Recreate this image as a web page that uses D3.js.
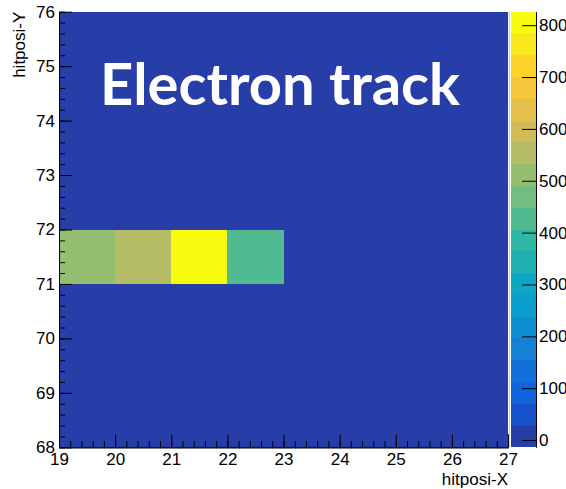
<!DOCTYPE html>
<html><head><meta charset="utf-8">
<script src="https://cdn.jsdelivr.net/npm/d3@7"></script>
<style>body{margin:0;background:#fff}svg{display:block}</style>
</head><body>
<script>
// ---- data ----
const xEdges = [19, 20, 21, 22, 23, 24, 25, 26, 27];
const yEdges = [68, 69, 70, 71, 72, 73, 74, 75, 76];
const hitX = [19, 20, 21, 22];
const hitY = [71, 71, 71, 71];
const hitCounts = [510, 553, 805, 428];
const zRange = [-14, 826];
const nContours = 20;
const xTicks = [19, 20, 21, 22, 23, 24, 25, 26, 27];
const yTicks = [68, 69, 70, 71, 72, 73, 74, 75, 76];
const zTicks = [0, 100, 200, 300, 400, 500, 600, 700, 800];
const xTitle = "hitposi-X", yTitle = "hitposi-Y";
const overlayText = "Electron track";

// ROOT kBird palette
const birdStops = [0.0000, 0.1250, 0.2500, 0.3750, 0.5000, 0.6250, 0.7500, 0.8750, 1.0000];
const birdR = [0.2082, 0.0592, 0.0780, 0.0232, 0.1802, 0.5301, 0.8186, 0.9956, 0.9764];
const birdG = [0.1664, 0.3599, 0.5041, 0.6419, 0.7178, 0.7492, 0.7328, 0.7862, 0.9832];
const birdB = [0.5293, 0.8684, 0.8385, 0.7914, 0.6425, 0.4662, 0.3499, 0.1968, 0.0539];

// ---- layout ----
const W = 566, H = 489;
const fx0 = 59, fx1 = 508, fy0 = 11.7, fy1 = 447.3;
const px0 = 511, px1 = 536;
const fontFam = "'Liberation Sans', Arial, Helvetica, sans-serif";
const fs = 17;

const svg = d3.select("body").append("svg").attr("width", W).attr("height", H)
  .style("font-family", fontFam);

const x = d3.scaleLinear().domain([xEdges[0], xEdges[xEdges.length-1]]).range([fx0, fx1]);
const y = d3.scaleLinear().domain([yEdges[0], yEdges[yEdges.length-1]]).range([fy1, fy0]);
const z = d3.scaleLinear().domain(zRange).range([fy1, fy0]);

// palette colors
const rgbAt = d3.scaleLinear().domain(birdStops).range(birdStops.map((s,i)=>d3.rgb(birdR[i]*255, birdG[i]*255, birdB[i]*255))).interpolate(d3.interpolateRgb);
const nCol = 255;
const contourColors = d3.range(nContours).map(i => {
  const idx = Math.floor((i + 0.99) * nCol / nContours);
  return rgbAt(Math.min(idx, nCol-1) / (nCol-1));
});
const dz = (zRange[1]-zRange[0]) / nContours;
const colorOf = v => contourColors[Math.max(0, Math.min(nContours-1, Math.floor((v - zRange[0]) / dz)))];

// grid cells
const cells = [];
for (let i = 0; i < xEdges.length-1; i++) for (let j = 0; j < yEdges.length-1; j++) {
  let v = 0;
  hitX.forEach((hx, k) => { if (hx === xEdges[i] && hitY[k] === yEdges[j]) v = hitCounts[k]; });
  cells.push({x0: xEdges[i], x1: xEdges[i+1], y0: yEdges[j], y1: yEdges[j+1], v});
}
svg.append("g").attr("shape-rendering", "crispEdges").selectAll("rect").data(cells).join("rect")
  .attr("x", d => x(d.x0)).attr("width", d => x(d.x1) - x(d.x0))
  .attr("y", d => y(d.y1)).attr("height", d => y(d.y0) - y(d.y1))
  .attr("fill", d => colorOf(d.v));

// palette
const bands = d3.range(nContours).map(i => ({lo: zRange[0] + i*dz, hi: zRange[0] + (i+1)*dz, c: contourColors[i]}));
svg.append("g").attr("shape-rendering", "crispEdges").selectAll("rect").data(bands).join("rect")
  .attr("x", px0).attr("width", px1 - px0)
  .attr("y", d => z(d.hi)).attr("height", d => z(d.lo) - z(d.hi))
  .attr("fill", d => d.c);
svg.append("line").attr("x1", px0 - 1.5).attr("x2", px0 - 1.5).attr("y1", fy0).attr("y2", fy1)
  .attr("stroke", "#ccc").attr("stroke-width", 1);

// axes
function styleAxis(g) {
  g.selectAll("text").style("font-size", fs + "px").style("font-family", fontFam).attr("fill", "#000");
  g.selectAll("line,path").attr("stroke", "#000");
}
const minorX = d3.range(xEdges[0], xEdges[xEdges.length-1] + 1e-9, 0.2);
const minorY = d3.range(yEdges[0], yEdges[yEdges.length-1] + 1e-9, 0.2);

svg.append("g").attr("transform", `translate(0,${fy1})`)
  .call(d3.axisBottom(x).tickValues(minorX).tickSize(-6).tickSizeOuter(0).tickFormat(""))
  .call(styleAxis);
svg.append("g").attr("transform", `translate(0,${fy1})`)
  .call(d3.axisBottom(x).tickValues(xTicks).tickSize(-13).tickSizeOuter(0).tickPadding(6).tickFormat(d3.format("d")))
  .call(styleAxis);
svg.append("g").attr("transform", `translate(${fx0},0)`)
  .call(d3.axisLeft(y).tickValues(minorY).tickSize(-6).tickSizeOuter(0).tickFormat(""))
  .call(styleAxis);
svg.append("g").attr("transform", `translate(${fx0},0)`)
  .call(d3.axisLeft(y).tickValues(yTicks).tickSize(-13).tickSizeOuter(0).tickPadding(4).tickFormat(d3.format("d")))
  .call(styleAxis);
svg.append("g").attr("transform", `translate(${px1},0)`)
  .call(d3.axisRight(z).tickValues(zTicks).tickSize(-14).tickSizeOuter(0).tickPadding(3).tickFormat(d3.format("d")))
  .call(styleAxis);

// titles
svg.append("text").attr("x", fx1).attr("y", 485).attr("text-anchor", "end")
  .style("font-size", fs + "px").text(xTitle);
svg.append("text").attr("transform", `translate(25,${fy0}) rotate(-90)`).attr("text-anchor", "end")
  .style("font-size", fs + "px").text(yTitle);

// overlay
svg.append("text").attr("x", 100).attr("y", 105)
  .attr("textLength", 360).attr("lengthAdjust", "spacingAndGlyphs")
  .style("font-family", "Lato, 'Open Sans', sans-serif").style("font-weight", 700)
  .style("font-size", "58px").attr("fill", "#fff").text(overlayText);
</script>
</body></html>
